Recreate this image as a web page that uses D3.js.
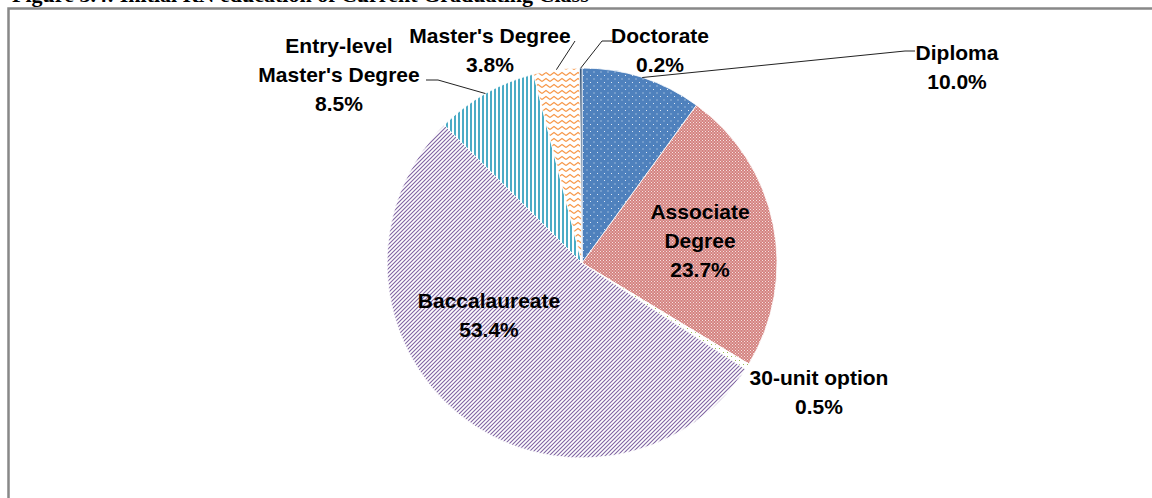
<!DOCTYPE html>
<html>
<head>
<meta charset="utf-8">
<script src="https://cdn.jsdelivr.net/npm/d3@7"></script>
<style>
  body { margin: 0; background: #fff; }
  svg { display: block; }
</style>
</head>
<body>
<div id="chart-area"></div>
<script>
const svgWidth = 1152,
      svgHeight = 498;

// data
const categories = ["Diploma", "Associate Degree", "30-unit option", "Baccalaureate",
  "Entry-level Master's Degree", "Master's Degree", "Doctorate"];
const shares = [10.0, 23.7, 0.5, 53.4, 8.5, 3.8, 0.2];
const labelLines = [["Diploma"], ["Associate", "Degree"], ["30-unit option"], ["Baccalaureate"],
  ["Entry-level", "Master's Degree"], ["Master's Degree"], ["Doctorate"]];
const titleText = "Figure 3.4: Initial RN education of Current Graduating Class";

// layout: label block offsets from the pie centre (first line centre), and leader elbows
const labelOffsets = [[375, -211], [118, -52], [237, 114], [-93, 37], [-243, -218], [-92, -228], [78, -228]];
const leaderElbows = [[[323, -212], [333, -212]], null, null, null,
  [[-144, -183], [-156, -183]], [[-7, -222]], [[20, -222], [30, -222]]];

const cx = 582, cy = 263, radius = 195;
const lineGap = 29;

const svg = d3.select("#chart-area")
  .append("svg")
  .attr("width", svgWidth)
  .attr("height", svgHeight);

const defs = svg.append("defs");

// Diploma: blue with white dots
let p = defs.append("pattern").attr("id", "pat0").attr("patternUnits", "userSpaceOnUse")
  .attr("width", 7).attr("height", 7);
p.append("rect").attr("width", 7).attr("height", 7).attr("fill", "#4F81BD");
p.append("rect").attr("x", 1).attr("y", 1).attr("width", 1).attr("height", 1).attr("fill", "#dfe8f3");
p.append("rect").attr("x", 4.5).attr("y", 4.5).attr("width", 1).attr("height", 1).attr("fill", "#dfe8f3");

// Associate: red fine grid, pinkish overall
p = defs.append("pattern").attr("id", "pat1").attr("patternUnits", "userSpaceOnUse")
  .attr("width", 3).attr("height", 3);
p.append("rect").attr("width", 3).attr("height", 3).attr("fill", "#d4827f");
p.append("rect").attr("width", 1).attr("height", 1).attr("fill", "#f6e2e1");
p.append("rect").attr("x", 1.5).attr("y", 1.5).attr("width", 1).attr("height", 1).attr("fill", "#f6e2e1");

// 30-unit option: green dots on white
p = defs.append("pattern").attr("id", "pat2").attr("patternUnits", "userSpaceOnUse")
  .attr("width", 4).attr("height", 4);
p.append("rect").attr("width", 4).attr("height", 4).attr("fill", "#fff");
p.append("rect").attr("x", 1).attr("y", 1).attr("width", 1).attr("height", 1).attr("fill", "#9BBB59");

// Baccalaureate: purple diagonal lines
p = defs.append("pattern").attr("id", "pat3").attr("patternUnits", "userSpaceOnUse")
  .attr("width", 4).attr("height", 4);
p.append("rect").attr("width", 4).attr("height", 4).attr("fill", "#fff");
p.append("path").attr("d", "M-1,1 L1,-1 M0,4 L4,0 M3,5 L5,3")
  .attr("stroke", "#8064A2").attr("stroke-width", 1.1);

// Entry-level: teal vertical stripes
p = defs.append("pattern").attr("id", "pat4").attr("patternUnits", "userSpaceOnUse")
  .attr("width", 4).attr("height", 4);
p.append("rect").attr("width", 4).attr("height", 4).attr("fill", "#fff");
p.append("rect").attr("width", 2).attr("height", 4).attr("fill", "#4BACC6");

// Master's: orange zigzag
p = defs.append("pattern").attr("id", "pat5").attr("patternUnits", "userSpaceOnUse")
  .attr("width", 8).attr("height", 6);
p.append("rect").attr("width", 8).attr("height", 6).attr("fill", "#fff");
p.append("path").attr("d", "M0,4.5 L4,1.5 L8,4.5").attr("fill", "none")
  .attr("stroke", "#F79646").attr("stroke-width", 1.1);

// Doctorate
p = defs.append("pattern").attr("id", "pat6").attr("patternUnits", "userSpaceOnUse")
  .attr("width", 4).attr("height", 4);
p.append("rect").attr("width", 4).attr("height", 4).attr("fill", "#2C4D75");

// title, mostly cut off by the top edge as in the source
svg.append("text")
  .attr("x", 12)
  .attr("y", 1.5)
  .attr("font-family", "'Liberation Serif', 'Times New Roman', serif")
  .attr("font-weight", "bold")
  .attr("font-size", "22px")
  .attr("fill", "#000")
  .text(titleText);

// frame
svg.append("rect")
  .attr("x", 8.5).attr("y", 8.5)
  .attr("width", 1300).attr("height", 700)
  .attr("fill", "none")
  .attr("stroke", "#888")
  .attr("stroke-width", 2.5);

const pie = d3.pie().sort(null).value(d => d);
const arcs = pie(shares);
const arc = d3.arc().innerRadius(0).outerRadius(radius);
const rimArc = d3.arc().innerRadius(radius).outerRadius(radius);

const area = svg.append("g")
  .attr("transform", `translate(${cx}, ${cy})`);

area.selectAll("path.slice")
  .data(arcs)
  .enter()
  .append("path")
  .attr("class", "slice")
  .attr("d", arc)
  .attr("fill", (d, i) => `url(#pat${i})`)
  .attr("stroke", "#fff")
  .attr("stroke-width", 0.8);

// leader lines
arcs.forEach((d, i) => {
  if (!leaderElbows[i]) return;
  const pts = [rimArc.centroid(d)].concat(leaderElbows[i]);
  area.append("path")
    .attr("d", d3.line()(pts))
    .attr("fill", "none")
    .attr("stroke", "#222")
    .attr("stroke-width", 1);
});

// labels
arcs.forEach((d, i) => {
  const lines = labelLines[i].concat([d3.format(".1f")(shares[i]) + "%"]);
  const t = area.append("text")
    .attr("text-anchor", "middle")
    .attr("font-family", "'Liberation Sans', Arial, sans-serif")
    .attr("font-weight", "bold")
    .attr("font-size", "21px")
    .attr("fill", "#000");
  lines.forEach((s, j) => {
    t.append("tspan")
      .attr("x", labelOffsets[i][0])
      .attr("y", labelOffsets[i][1] + j * lineGap)
      .attr("dy", "0.36em")
      .text(s);
  });
});
</script>
</body>
</html>
